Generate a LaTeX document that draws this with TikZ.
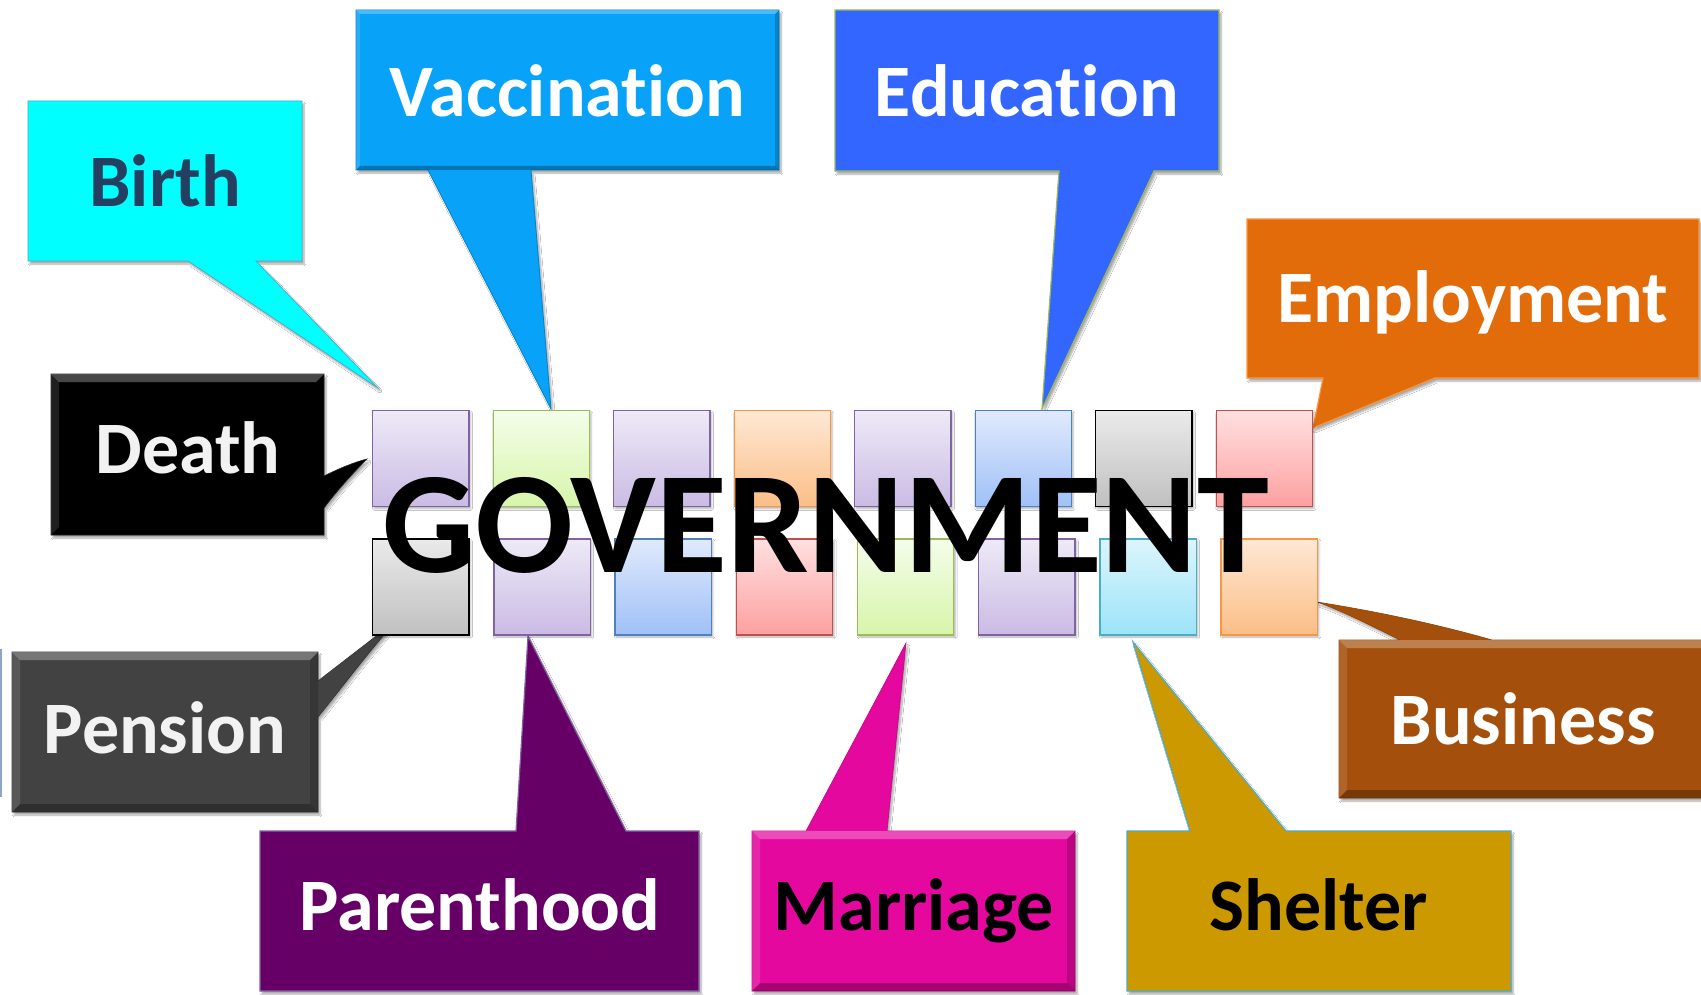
\documentclass[tikz,border=0pt]{standalone}
\usepackage{fontspec}
\setmainfont{Carlito}[Ligatures=NoCommon]
\usetikzlibrary{shadows.blur}
\definecolor{cBirth}{RGB}{0,255,255}
\definecolor{cBirthLine}{RGB}{75,172,198}
\definecolor{cBirthText}{RGB}{36,63,96}
\definecolor{cVacc}{RGB}{8,162,248}
\definecolor{cEdu}{RGB}{51,102,255}
\definecolor{cGreenLine}{RGB}{155,187,89}
\definecolor{cEmp}{RGB}{227,108,10}
\definecolor{cOrangeLine}{RGB}{247,150,70}
\definecolor{cPension}{RGB}{66,66,66}
\definecolor{cParent}{RGB}{102,0,102}
\definecolor{cPurpleLine}{RGB}{128,100,162}
\definecolor{cMarriage}{RGB}{228,8,158}
\definecolor{cShelter}{RGB}{204,153,0}
\definecolor{cBusiness}{RGB}{164,80,12}
\definecolor{cLightText}{RGB}{242,242,242}
% squares
\definecolor{purT}{RGB}{238,234,247}\definecolor{purB}{RGB}{202,187,228}
\definecolor{grnT}{RGB}{244,253,234}\definecolor{grnB}{RGB}{215,245,170}
\definecolor{oraT}{RGB}{254,232,212}\definecolor{oraB}{RGB}{251,190,135}
\definecolor{bluT}{RGB}{224,234,252}\definecolor{bluB}{RGB}{160,192,248}\definecolor{bluL}{RGB}{79,129,189}
\definecolor{gryT}{RGB}{234,234,234}\definecolor{gryB}{RGB}{192,192,192}
\definecolor{redT}{RGB}{255,224,224}\definecolor{redB}{RGB}{253,160,160}\definecolor{redL}{RGB}{192,80,77}
\definecolor{cyaT}{RGB}{220,245,252}\definecolor{cyaB}{RGB}{156,228,248}
\newcommand{\bevelbox}[5]{%
  \fill[white,opacity=0.28] (#1,#2) -- (#3,#2) -- (#3-#5,#2+#5) -- (#1+#5,#2+#5) -- cycle;
  \fill[white,opacity=0.12] (#1,#2) -- (#1+#5,#2+#5) -- (#1+#5,#4-#5) -- (#1,#4) -- cycle;
  \fill[black,opacity=0.18] (#3,#2) -- (#3,#4) -- (#3-#5,#4-#5) -- (#3-#5,#2+#5) -- cycle;
  \fill[black,opacity=0.28] (#1,#4) -- (#3,#4) -- (#3-#5,#4-#5) -- (#1+#5,#4-#5) -- cycle;
}
\begin{document}
\begin{tikzpicture}[x=1pt,y=-1pt,
  callout/.style={line width=1.2pt, blur shadow={shadow xshift=2pt, shadow yshift=-3pt, shadow blur steps=6, shadow opacity=35}},
  lbl/.style={font=\fontsize{74}{80}\selectfont\bfseries, anchor=base, inner sep=0pt},
  sq/.style={line width=1.3pt, blur shadow={shadow xshift=1.5pt, shadow yshift=-2pt, shadow blur steps=4, shadow opacity=30}}
]
\useasboundingbox (0,0) rectangle (1701,995);
\clip (0,0) rectangle (1701,995);
\fill[white] (0,0) rectangle (1701,995);

% thin edge line at far left
\draw[color={rgb,255:red,140;green,165;blue,200}, line width=1.2pt] (1,649) -- (1,797);

% Birth
\path[callout, fill=cBirth, draw=cBirthLine, line width=0.8pt]
  (28,101) -- (302,101) -- (302,261) -- (256,261) -- (378,388) -- (188,261) -- (28,261) -- cycle;
\node[lbl, text=cBirthText] (birth) at (165,207) {Birth};

% Vaccination
\path[callout, fill=cVacc, draw=cVacc!80!black, line width=0.8pt]
  (356,10) -- (779,10) -- (779,170) -- (531,170) -- (551,409) -- (428,170) -- (356,170) -- cycle;
\bevelbox{356}{10}{779}{170}{4}
\node[lbl, text=white] (vacc) at (567.5,116.7) {Vaccination};

% Education
\path[callout, fill=cEdu, draw=cGreenLine]
  (835,10) -- (1219,10) -- (1219,171) -- (1154,171) -- (1042,409) -- (1059,171) -- (835,171) -- cycle;
\node[lbl, text=white] (edu) at (1027,116.7) {Education};

% Employment
\path[callout, fill=cEmp, draw=cOrangeLine]
  (1247,219) -- (1699,219) -- (1699,378) -- (1435,378) -- (1313,428) -- (1323,378) -- (1247,378) -- cycle;
\node[lbl, text=white] (emp) at (1473,323) {Employment};

% Death
\path[callout, fill=black, draw=black!85, line width=0.6pt]
  (51,374) -- (324,374) -- (324,476) .. controls (340,468) and (355,462) .. (367,459)
  .. controls (352,474) and (336,492) .. (324,508) -- (324,535) -- (51,535) -- cycle;
\bevelbox{51}{374}{324}{535}{8}
\node[lbl, text=cLightText] (death) at (188,473) {Death};

% Pension
\path[callout, fill=cPension, draw=cPension!80!black, line width=0.6pt]
  (12,652) -- (318,652) -- (318,681) .. controls (345,660) and (375,637) .. (398,619)
  .. controls (370,650) and (340,690) .. (318,717) -- (318,812) -- (12,812) -- cycle;
\bevelbox{12}{652}{318}{812}{8}
\node[lbl, text=cLightText] (pension) at (165,753) {Pension};

% Parenthood
\path[callout, fill=cParent, draw=cPurpleLine]
  (260,831) -- (516,831) -- (528,636) -- (626,831) -- (699,831) -- (699,991) -- (260,991) -- cycle;
\node[lbl, text=white] (parent) at (480,930) {Parenthood};

% Marriage
\path[callout, fill=cMarriage, draw=cMarriage!85!black, line width=0.6pt]
  (752,831) -- (806,831) -- (906,643) -- (887,831) -- (1075,831) -- (1075,991) -- (752,991) -- cycle;
\bevelbox{752}{831}{1075}{991}{8}
\node[lbl, text=black] (marriage) at (914,930) {Marriage};

% Shelter
\path[callout, fill=cShelter, draw=cBirthLine]
  (1127,831) -- (1190,831) -- (1133,642) -- (1286,831) -- (1511,831) -- (1511,991) -- (1127,991) -- cycle;
\node[lbl, text=black] (shelter) at (1319,930) {Shelter};

% Business
\path[callout, fill=cBusiness, draw=cBusiness!85!black, line width=0.6pt]
  (1339,640) -- (1400,640) .. controls (1370,625) and (1340,610) .. (1317,602)
  .. controls (1380,612) and (1440,625) .. (1492,640) -- (1710,640) -- (1710,798) -- (1339,798) -- cycle;
\bevelbox{1339}{640}{1712}{798}{8}
\node[lbl, text=white] (business) at (1523,744) {Business};

% squares, top row
\foreach \i/\ct/\cb/\cl [count=\k] in {0/purT/purB/cPurpleLine, 1/grnT/grnB/cGreenLine, 2/purT/purB/cPurpleLine, 3/oraT/oraB/cOrangeLine,
  4/purT/purB/cPurpleLine, 5/bluT/bluB/bluL, 6/gryT/gryB/black, 7/redT/redB/redL}{
  \path[sq, top color=\ct, bottom color=\cb, draw=\cl] (372.7+\i*120.5,410.7) rectangle ++(96.3,96) node[pos=0.5] (t\k) {};
}
% squares, bottom row
\foreach \i/\ct/\cb/\cl [count=\k] in {0/gryT/gryB/black, 1/purT/purB/cPurpleLine, 2/bluT/bluB/bluL, 3/redT/redB/redL,
  4/grnT/grnB/cGreenLine, 5/purT/purB/cPurpleLine, 6/cyaT/cyaB/cBirthLine, 7/oraT/oraB/cOrangeLine}{
  \path[sq, top color=\ct, bottom color=\cb, draw=\cl] (372.7+\i*121.2,539) rectangle ++(96.3,96) node[pos=0.5] (b\k) {};
}

% GOVERNMENT
\node[font=\fontsize{145}{150}\selectfont\bfseries, anchor=base, inner sep=0pt, text=black] (gov) at (826,572) {GOVERNMENT};
\end{tikzpicture}
\end{document}
